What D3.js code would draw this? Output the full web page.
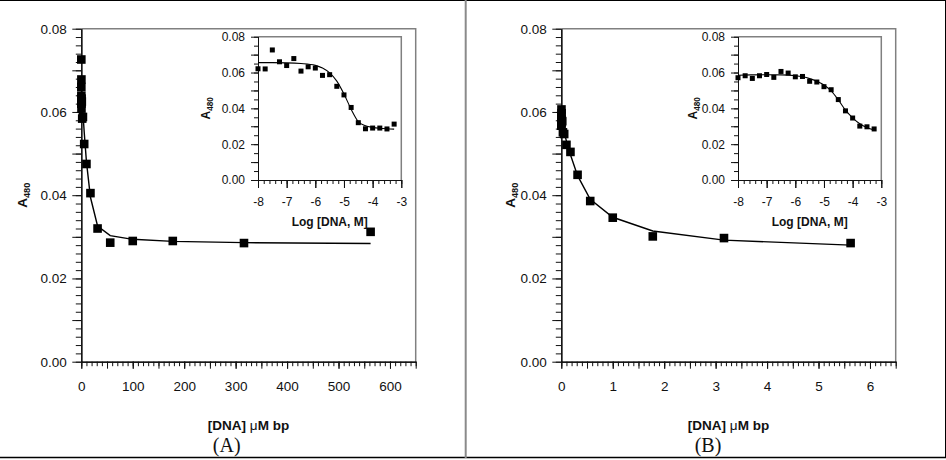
<!DOCTYPE html>
<html>
<head>
<meta charset="utf-8">
<script src="https://cdn.jsdelivr.net/npm/d3@7"></script>
<style>
body { margin: 0; background: #fff; }
svg { display: block; }
text { font-family: "Liberation Sans", Arial, sans-serif; fill: #111; }
</style>
</head>
<body>
<svg id="chart" width="946" height="460"></svg>
<script>
// log of DNA concentration (M), same titration grid in both panels
const logConc = [-8, -7.75, -7.5, -7.25, -7, -6.75, -6.5, -6.25, -6, -5.75,
                 -5.5, -5.25, -5, -4.75, -4.5, -4.25, -4, -3.75, -3.5, -3.25];
// A480
const absA = [0.0621, 0.0620, 0.0726, 0.0660, 0.0639, 0.0678, 0.0608, 0.0632, 0.0625, 0.0584,
              0.0588, 0.0523, 0.0475, 0.0405, 0.0320, 0.0286, 0.0290, 0.0290, 0.0285, 0.0312];
const absB = [0.0571, 0.0582, 0.0567, 0.0582, 0.0589, 0.0573, 0.0606, 0.0597, 0.0576, 0.0578,
              0.0551, 0.0547, 0.0521, 0.0504, 0.0449, 0.0386, 0.0346, 0.0301, 0.0297, 0.0285];
// fitted curves, read at a few points
const fitLog = [-8, -7.5, -7, -6.5, -6, -5.75, -5.5, -5.25, -5, -4.75, -4.5, -4.25, -4, -3.75, -3.5, -3.25];
const fitA = [0.0655, 0.0655, 0.0654, 0.0650, 0.0640, 0.0625, 0.0598, 0.0552, 0.0480, 0.0395,
              0.0326, 0.0303, 0.0294, 0.0289, 0.0286, 0.0284];
const fitB = [0.0585, 0.0587, 0.0588, 0.0587, 0.0582, 0.0576, 0.0566, 0.0551, 0.0530, 0.0497,
              0.0447, 0.0390, 0.0347, 0.0314, 0.0292, 0.0280];
// main-plot x ticks
const xTicksA = [0, 100, 200, 300, 400, 500, 600];
const xTicksB = [0, 1, 2, 3, 4, 5, 6];

let svg = d3.select('#chart');

// outer frame
svg.append('line').attr('x1', 0).attr('x2', 946).attr('y1', 0.5).attr('y2', 0.5).attr('stroke', '#000');
svg.append('line').attr('x1', 0).attr('x2', 946).attr('y1', 457.5).attr('y2', 457.5).attr('stroke', '#000').attr('stroke-width', 1.5);
svg.append('line').attr('x1', 945.5).attr('x2', 945.5).attr('y1', 0).attr('y2', 458).attr('stroke', '#000');
svg.append('line').attr('x1', 465.7).attr('x2', 465.7).attr('y1', 0).attr('y2', 458).attr('stroke', '#8a8a8a').attr('stroke-width', 2);

function styleAxis(g, fs) {
    g.selectAll('path, line').attr('stroke', '#111');
    g.selectAll('text').style('font-size', fs + 'px').attr('fill', '#111');
}

// one set of axes with box
function drawAxes(g, x, y, o) {
    let x0 = x.range()[0], x1 = x.range()[1];
    let y0 = y.range()[0], y1 = y.range()[1];
    // gray box top + right
    g.append('path')
        .attr('d', `M${x0},${y1}H${x1}V${y0}`)
        .attr('fill', 'none').attr('stroke', '#808080').attr('stroke-width', 1.5);

    // y axis
    let gy = g.append('g').attr('transform', `translate(${x0},0)`);
    gy.append('g').call(d3.axisLeft(y).tickValues(o.yMinor).tickSize(o.yMinorLen).tickFormat('').tickSizeOuter(0));
    gy.append('g').call(d3.axisLeft(y).tickValues(o.yMid).tickSize(o.yMajorLen).tickFormat('').tickSizeOuter(0));
    gy.append('g').call(d3.axisLeft(y).tickValues([0, 0.02, 0.04, 0.06, 0.08]).tickSize(o.yMajorLen)
        .tickPadding(o.yPad).tickFormat(d3.format('.2f')).tickSizeOuter(0));
    styleAxis(gy, o.fs);

    // x axis
    let gx = g.append('g').attr('transform', `translate(0,${y0})`);
    gx.append('g').call(d3.axisBottom(x).tickValues(o.xMinor).tickSize(o.xMinorLen).tickFormat('').tickSizeOuter(0));
    gx.append('g').call(d3.axisBottom(x).tickValues(o.xMid).tickSize(o.xMajorLen).tickFormat('').tickSizeOuter(0));
    gx.append('g').call(d3.axisBottom(x).tickValues(o.xLabels).tickSize(o.xMajorLen)
        .tickPadding(o.xPad).tickFormat(d => String(d)).tickSizeOuter(0));
    styleAxis(gx, o.fs);
}

function yTitle(g, cx, cy, fs) {
    let t = g.append('text')
        .attr('transform', `translate(${cx},${cy}) rotate(-90)`)
        .attr('text-anchor', 'middle')
        .style('font-weight', 'bold')
        .style('font-size', fs + 'px');
    t.append('tspan').text('A');
    t.append('tspan').attr('dy', fs * 0.25).style('font-size', (fs * 0.68) + 'px').text('480');
}

function drawPanel(ox, abs, fit, unitShift, xMax, xTicks, xStep, xMidStep, letter, letterX, titleX, insetTitleX) {
    let g = svg.append('g');
    let toConc = l => Math.pow(10, l + unitShift);

    // main plot
    let x = d3.scaleLinear().domain([0, xMax]).range([81.3 + ox, 415.7 + ox]);
    let y = d3.scaleLinear().domain([0, 0.08]).range([361.7, 28.7]);
    drawAxes(g, x, y, {
        fs: 13.5,
        yMinor: d3.range(0, 0.0801, 0.002), yMid: d3.range(0.01, 0.08, 0.02),
        yMinorLen: 5.5, yMajorLen: 9, yPad: 5.6,
        xMinor: d3.range(0, xMax + xStep / 2, xStep), xMid: d3.range(0, xMax + xStep / 2, xMidStep),
        xLabels: xTicks,
        xMinorLen: 4.5, xMajorLen: 7, xPad: 12.5
    });

    let line = d3.line().x(d => x(toConc(d[0]))).y(d => y(d[1]));
    g.append('path')
        .datum(d3.zip(fitLog, fit))
        .attr('d', line)
        .attr('fill', 'none').attr('stroke', '#000').attr('stroke-width', 1.4);

    let s = 8.6;
    g.append('g').selectAll('rect')
        .data(d3.zip(logConc, abs))
        .join('rect')
        .attr('x', d => x(toConc(d[0])) - s / 2)
        .attr('y', d => y(d[1]) - s / 2)
        .attr('width', s).attr('height', s)
        .attr('fill', '#000');

    yTitle(g, titleX, 195.2, 13.5);
    g.append('text')
        .attr('x', (x.range()[0] + x.range()[1]) / 2).attr('y', 430)
        .attr('text-anchor', 'middle')
        .style('font-size', '13.5px').style('font-weight', 'bold')
        .call(t => {
            t.append('tspan').text('[DNA] ');
            t.append('tspan').style('font-weight', 'normal').text('\u03bc');
            t.append('tspan').text('M bp');
        });
    g.append('text')
        .attr('x', letterX).attr('y', 451.5)
        .attr('text-anchor', 'middle')
        .style('font-family', '"Liberation Serif", "Times New Roman", serif')
        .style('font-size', '20px')
        .text(letter);

    // inset
    let ix = d3.scaleLinear().domain([-8, -3]).range([258 + ox, 401.3 + ox]);
    let iy = d3.scaleLinear().domain([0, 0.08]).range([180, 36.7]);
    let gi = svg.append('g');
    drawAxes(gi, ix, iy, {
        fs: 12,
        yMinor: d3.range(0, 0.0801, 0.005), yMid: d3.range(0.01, 0.08, 0.02),
        yMinorLen: 4, yMajorLen: 7, yPad: 6,
        xMinor: d3.range(-8, -2.95, 0.2), xMid: d3.range(-8, -2.95, 1),
        xLabels: [-8, -7, -6, -5, -4, -3],
        xMinorLen: 4, xMajorLen: 8, xPad: 9
    });

    gi.append('path')
        .datum(d3.zip(fitLog, fit))
        .attr('d', d3.line().x(d => ix(d[0])).y(d => iy(d[1])).curve(d3.curveMonotoneX))
        .attr('fill', 'none').attr('stroke', '#000').attr('stroke-width', 1.1);

    let si = 5;
    gi.append('g').selectAll('rect')
        .data(d3.zip(logConc, abs))
        .join('rect')
        .attr('x', d => ix(d[0]) - si / 2)
        .attr('y', d => iy(d[1]) - si / 2)
        .attr('width', si).attr('height', si)
        .attr('fill', '#000');

    yTitle(gi, insetTitleX, 108.3, 12);
    gi.append('text')
        .attr('x', (ix.range()[0] + ix.range()[1]) / 2).attr('y', 225.5)
        .attr('text-anchor', 'middle')
        .style('font-size', '12px').style('font-weight', 'bold')
        .text('Log [DNA, M]');
}

drawPanel(0, absA, fitA, 6, 650, xTicksA, 10, 50, '(A)', 226.7, 26.7, 210);
drawPanel(480, absB, fitB, 4, 6.5, xTicksB, 0.1, 0.5, '(B)', 708, 514.5, 697);
</script>
</body>
</html>
